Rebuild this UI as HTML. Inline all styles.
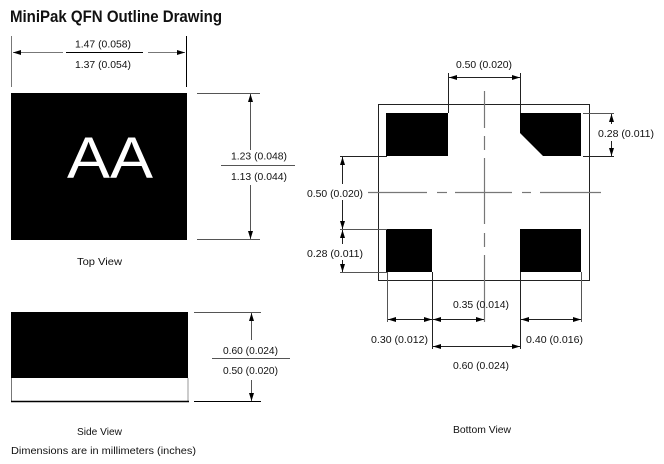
<!DOCTYPE html>
<html><head><meta charset="utf-8"><style>
html,body{margin:0;padding:0;background:#fff;width:664px;height:464px;overflow:hidden}
svg{display:block}
text{font-family:"Liberation Sans",Arial,sans-serif;font-size:10.5px;fill:#111}
</style></head><body>
<svg width="664" height="464" viewBox="0 0 664 464" xmlns="http://www.w3.org/2000/svg">
<defs>
<marker id="a" viewBox="0 0 8 6" refX="8" refY="3" markerWidth="8" markerHeight="6" markerUnits="userSpaceOnUse" orient="auto"><path d="M0,0.5 L8,3 L0,5.5 Z" fill="#000"/></marker>
</defs>
<text x="10" y="22" style="font-weight:bold;font-size:17px" textLength="212" lengthAdjust="spacingAndGlyphs">MiniPak QFN Outline Drawing</text>

<!-- top view -->
<g stroke="#777" stroke-width="1" fill="none">
<line x1="11.5" y1="36" x2="11.5" y2="87"/>
<line x1="186.5" y1="36" x2="186.5" y2="87" stroke="#000"/>
<line x1="63" y1="52.5" x2="13" y2="52.5" marker-end="url(#a)"/>
<line x1="148" y1="52.5" x2="185" y2="52.5" marker-end="url(#a)"/>
<line x1="66" y1="52.5" x2="143" y2="52.5" stroke="#000"/>
</g>
<text x="75" y="47.5" textLength="56" lengthAdjust="spacingAndGlyphs">1.47 (0.058)</text>
<text x="75" y="68" textLength="56" lengthAdjust="spacingAndGlyphs">1.37 (0.054)</text>
<rect x="11" y="93" width="176" height="147" fill="#000"/>
<text x="110" y="178" text-anchor="middle" style="font-size:58px;fill:#fff" textLength="86" lengthAdjust="spacingAndGlyphs">AA</text>
<g stroke="#555" stroke-width="1" fill="none">
<line x1="197" y1="93.5" x2="260" y2="93.5"/>
<line x1="197" y1="239.5" x2="260" y2="239.5"/>
<line x1="250.5" y1="150" x2="250.5" y2="94" marker-end="url(#a)"/>
<line x1="250.5" y1="185" x2="250.5" y2="239" marker-end="url(#a)"/>
<line x1="221" y1="165.5" x2="295" y2="165.5"/>
</g>
<text x="231" y="159.5" textLength="56" lengthAdjust="spacingAndGlyphs">1.23 (0.048)</text>
<text x="231" y="180" textLength="56" lengthAdjust="spacingAndGlyphs">1.13 (0.044)</text>
<text x="77" y="265" textLength="45" lengthAdjust="spacingAndGlyphs">Top View</text>

<!-- side view -->
<rect x="11" y="312" width="177" height="66" fill="#000"/>
<line x1="11.5" y1="378" x2="11.5" y2="401" stroke="#777"/>
<line x1="188" y1="378" x2="188" y2="401" stroke="#999"/>
<line x1="11" y1="401.5" x2="189" y2="401.5" stroke="#000" stroke-width="1.5"/>
<g stroke="#555" stroke-width="1" fill="none">
<line x1="194" y1="312.5" x2="261" y2="312.5"/>
<line x1="194" y1="401.5" x2="261" y2="401.5" stroke="#000"/>
<line x1="251.5" y1="340" x2="251.5" y2="313" marker-end="url(#a)"/>
<line x1="251.5" y1="380" x2="251.5" y2="401" marker-end="url(#a)"/>
<line x1="212" y1="358.5" x2="290" y2="358.5"/>
</g>
<text x="223" y="354" textLength="55" lengthAdjust="spacingAndGlyphs">0.60 (0.024)</text>
<text x="223" y="374" textLength="55" lengthAdjust="spacingAndGlyphs">0.50 (0.020)</text>
<text x="77" y="435" textLength="45" lengthAdjust="spacingAndGlyphs">Side View</text>
<text x="11" y="454" textLength="185" lengthAdjust="spacingAndGlyphs">Dimensions are in millimeters (inches)</text>

<!-- bottom view -->
<rect x="378.5" y="104.5" width="211" height="176" fill="none" stroke="#222" stroke-width="1"/>
<rect x="386" y="113" width="62" height="43" fill="#000"/>
<path d="M520,113 L581,113 L581,156 L543,156 L520,133 Z" fill="#000"/>
<rect x="386" y="229" width="46" height="43" fill="#000"/>
<rect x="520" y="229" width="61" height="43" fill="#000"/>
<!-- center lines -->
<g stroke="#777" stroke-width="1.2">
<line x1="484.5" y1="91" x2="484.5" y2="128"/>
<line x1="484.5" y1="136" x2="484.5" y2="150"/>
<line x1="484.5" y1="158" x2="484.5" y2="224"/>
<line x1="484.5" y1="233" x2="484.5" y2="247"/>
<line x1="484.5" y1="255" x2="484.5" y2="322"/>
<line x1="368" y1="192.5" x2="427" y2="192.5"/>
<line x1="437" y1="192.5" x2="447" y2="192.5"/>
<line x1="455" y1="192.5" x2="512" y2="192.5"/>
<line x1="522" y1="192.5" x2="531" y2="192.5"/>
<line x1="540" y1="192.5" x2="601" y2="192.5"/>
</g>
<g stroke="#222" stroke-width="1" fill="none">
<!-- top 0.50 -->
<line x1="448.5" y1="73" x2="448.5" y2="113"/>
<line x1="520.5" y1="73" x2="520.5" y2="113"/>
<line x1="484" y1="77.5" x2="449" y2="77.5" marker-end="url(#a)"/>
<line x1="484" y1="77.5" x2="520" y2="77.5" marker-end="url(#a)"/>
<!-- right 0.28 -->
<line x1="583" y1="113.5" x2="614" y2="113.5" stroke="#555"/>
<line x1="583" y1="156.5" x2="614" y2="156.5"/>
<line x1="611.5" y1="124" x2="611.5" y2="114" marker-end="url(#a)"/>
<line x1="611.5" y1="141" x2="611.5" y2="156" marker-end="url(#a)"/>
<!-- left -->
<line x1="340" y1="156.5" x2="387" y2="156.5"/>
<line x1="340" y1="229.5" x2="387" y2="229.5" stroke="#555"/>
<line x1="340" y1="272.5" x2="387" y2="272.5" stroke="#555"/>
<line x1="342.5" y1="184" x2="342.5" y2="157" marker-end="url(#a)"/>
<line x1="342.5" y1="200" x2="342.5" y2="229" marker-end="url(#a)"/>
<line x1="342.5" y1="244" x2="342.5" y2="230" marker-end="url(#a)"/>
<line x1="342.5" y1="260" x2="342.5" y2="272" marker-end="url(#a)"/>
<!-- bottom extension -->
<line x1="387.5" y1="272" x2="387.5" y2="322" stroke="#555"/>
<line x1="432.5" y1="272" x2="432.5" y2="349"/>
<line x1="520.5" y1="272" x2="520.5" y2="349"/>
<line x1="581.5" y1="272" x2="581.5" y2="322" stroke="#555"/>
<line x1="410" y1="319.5" x2="388" y2="319.5" marker-end="url(#a)"/>
<line x1="410" y1="319.5" x2="432" y2="319.5" marker-end="url(#a)"/>
<line x1="458" y1="319.5" x2="433" y2="319.5" marker-end="url(#a)"/>
<line x1="458" y1="319.5" x2="484" y2="319.5" marker-end="url(#a)"/>
<line x1="550" y1="319.5" x2="521" y2="319.5" marker-end="url(#a)"/>
<line x1="550" y1="319.5" x2="581" y2="319.5" marker-end="url(#a)"/>
<line x1="476" y1="346.5" x2="433" y2="346.5" marker-end="url(#a)"/>
<line x1="476" y1="346.5" x2="520" y2="346.5" marker-end="url(#a)"/>
</g>
<text x="456" y="68" textLength="56" lengthAdjust="spacingAndGlyphs">0.50 (0.020)</text>
<text x="598" y="137" textLength="56" lengthAdjust="spacingAndGlyphs">0.28 (0.011)</text>
<text x="307" y="197" textLength="56" lengthAdjust="spacingAndGlyphs">0.50 (0.020)</text>
<text x="307" y="257" textLength="56" lengthAdjust="spacingAndGlyphs">0.28 (0.011)</text>
<text x="453" y="308" textLength="56" lengthAdjust="spacingAndGlyphs">0.35 (0.014)</text>
<text x="371" y="343" textLength="57" lengthAdjust="spacingAndGlyphs">0.30 (0.012)</text>
<text x="526" y="343" textLength="57" lengthAdjust="spacingAndGlyphs">0.40 (0.016)</text>
<text x="453" y="369" textLength="56" lengthAdjust="spacingAndGlyphs">0.60 (0.024)</text>
<text x="453" y="433" textLength="58" lengthAdjust="spacingAndGlyphs">Bottom View</text>
</svg>
</body></html>
